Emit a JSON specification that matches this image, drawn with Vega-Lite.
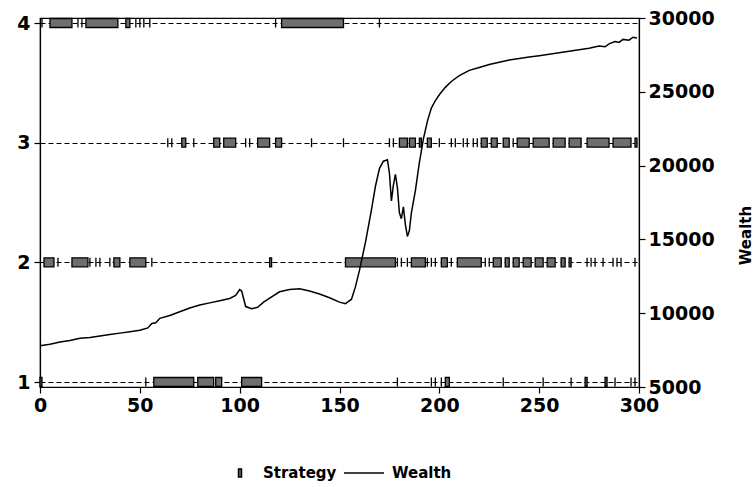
{
  "$schema": "https://vega.github.io/schema/vega-lite/v6.json",
  "width": 599,
  "height": 369,
  "autosize": {"type": "none"},
  "padding": {"left": 40, "top": 18, "right": 117, "bottom": 100},
  "background": "white",
  "config": {
    "view": {"stroke": "black", "strokeWidth": 1.2},
    "font": "DejaVu Sans",
    "axis": {"labelFont": "DejaVu Sans", "labelFontWeight": "bold", "labelColor": "black", "tickColor": "black", "domainColor": "black", "labelFontSize": 19, "tickWidth": 1.2, "domainWidth": 1.2},
    "legend": {"labelFont": "DejaVu Sans", "labelFontWeight": "bold", "labelFontSize": 15, "labelColor": "black"}
  },
  "datasets": {
    "strategy": [
      {"series": "Strategy", "strategy": 4, "start": 1, "end": 1},
      {"series": "Strategy", "strategy": 4, "start": 5, "end": 16},
      {"series": "Strategy", "strategy": 4, "start": 19, "end": 19},
      {"series": "Strategy", "strategy": 4, "start": 21, "end": 21},
      {"series": "Strategy", "strategy": 4, "start": 23, "end": 39},
      {"series": "Strategy", "strategy": 4, "start": 43, "end": 45},
      {"series": "Strategy", "strategy": 4, "start": 48, "end": 48},
      {"series": "Strategy", "strategy": 4, "start": 50, "end": 50},
      {"series": "Strategy", "strategy": 4, "start": 52, "end": 52},
      {"series": "Strategy", "strategy": 4, "start": 55, "end": 55},
      {"series": "Strategy", "strategy": 4, "start": 118, "end": 118},
      {"series": "Strategy", "strategy": 4, "start": 121, "end": 152},
      {"series": "Strategy", "strategy": 4, "start": 170, "end": 170},
      {"series": "Strategy", "strategy": 3, "start": 64, "end": 64},
      {"series": "Strategy", "strategy": 3, "start": 66, "end": 66},
      {"series": "Strategy", "strategy": 3, "start": 71, "end": 73},
      {"series": "Strategy", "strategy": 3, "start": 77, "end": 77},
      {"series": "Strategy", "strategy": 3, "start": 87, "end": 90},
      {"series": "Strategy", "strategy": 3, "start": 92, "end": 98},
      {"series": "Strategy", "strategy": 3, "start": 103, "end": 103},
      {"series": "Strategy", "strategy": 3, "start": 105, "end": 105},
      {"series": "Strategy", "strategy": 3, "start": 109, "end": 115},
      {"series": "Strategy", "strategy": 3, "start": 118, "end": 121},
      {"series": "Strategy", "strategy": 3, "start": 136, "end": 136},
      {"series": "Strategy", "strategy": 3, "start": 152, "end": 152},
      {"series": "Strategy", "strategy": 3, "start": 175, "end": 175},
      {"series": "Strategy", "strategy": 3, "start": 177, "end": 177},
      {"series": "Strategy", "strategy": 3, "start": 180, "end": 184},
      {"series": "Strategy", "strategy": 3, "start": 185, "end": 188},
      {"series": "Strategy", "strategy": 3, "start": 190, "end": 191},
      {"series": "Strategy", "strategy": 3, "start": 194, "end": 196},
      {"series": "Strategy", "strategy": 3, "start": 200, "end": 200},
      {"series": "Strategy", "strategy": 3, "start": 206, "end": 206},
      {"series": "Strategy", "strategy": 3, "start": 208, "end": 208},
      {"series": "Strategy", "strategy": 3, "start": 212, "end": 212},
      {"series": "Strategy", "strategy": 3, "start": 214, "end": 214},
      {"series": "Strategy", "strategy": 3, "start": 217, "end": 217},
      {"series": "Strategy", "strategy": 3, "start": 219, "end": 219},
      {"series": "Strategy", "strategy": 3, "start": 221, "end": 224},
      {"series": "Strategy", "strategy": 3, "start": 226, "end": 229},
      {"series": "Strategy", "strategy": 3, "start": 232, "end": 235},
      {"series": "Strategy", "strategy": 3, "start": 237, "end": 237},
      {"series": "Strategy", "strategy": 3, "start": 239, "end": 245},
      {"series": "Strategy", "strategy": 3, "start": 247, "end": 255},
      {"series": "Strategy", "strategy": 3, "start": 257, "end": 263},
      {"series": "Strategy", "strategy": 3, "start": 265, "end": 271},
      {"series": "Strategy", "strategy": 3, "start": 274, "end": 285},
      {"series": "Strategy", "strategy": 3, "start": 287, "end": 296},
      {"series": "Strategy", "strategy": 3, "start": 298, "end": 299},
      {"series": "Strategy", "strategy": 2, "start": 2, "end": 7},
      {"series": "Strategy", "strategy": 2, "start": 9, "end": 9},
      {"series": "Strategy", "strategy": 2, "start": 16, "end": 24},
      {"series": "Strategy", "strategy": 2, "start": 25, "end": 25},
      {"series": "Strategy", "strategy": 2, "start": 28, "end": 28},
      {"series": "Strategy", "strategy": 2, "start": 30, "end": 30},
      {"series": "Strategy", "strategy": 2, "start": 35, "end": 35},
      {"series": "Strategy", "strategy": 2, "start": 37, "end": 40},
      {"series": "Strategy", "strategy": 2, "start": 45, "end": 53},
      {"series": "Strategy", "strategy": 2, "start": 56, "end": 56},
      {"series": "Strategy", "strategy": 2, "start": 115, "end": 116},
      {"series": "Strategy", "strategy": 2, "start": 153, "end": 178},
      {"series": "Strategy", "strategy": 2, "start": 179, "end": 179},
      {"series": "Strategy", "strategy": 2, "start": 181, "end": 181},
      {"series": "Strategy", "strategy": 2, "start": 184, "end": 184},
      {"series": "Strategy", "strategy": 2, "start": 186, "end": 193},
      {"series": "Strategy", "strategy": 2, "start": 194, "end": 194},
      {"series": "Strategy", "strategy": 2, "start": 196, "end": 196},
      {"series": "Strategy", "strategy": 2, "start": 198, "end": 198},
      {"series": "Strategy", "strategy": 2, "start": 201, "end": 204},
      {"series": "Strategy", "strategy": 2, "start": 206, "end": 206},
      {"series": "Strategy", "strategy": 2, "start": 209, "end": 221},
      {"series": "Strategy", "strategy": 2, "start": 223, "end": 223},
      {"series": "Strategy", "strategy": 2, "start": 225, "end": 225},
      {"series": "Strategy", "strategy": 2, "start": 227, "end": 231},
      {"series": "Strategy", "strategy": 2, "start": 233, "end": 235},
      {"series": "Strategy", "strategy": 2, "start": 237, "end": 240},
      {"series": "Strategy", "strategy": 2, "start": 242, "end": 246},
      {"series": "Strategy", "strategy": 2, "start": 248, "end": 252},
      {"series": "Strategy", "strategy": 2, "start": 254, "end": 258},
      {"series": "Strategy", "strategy": 2, "start": 261, "end": 263},
      {"series": "Strategy", "strategy": 2, "start": 265, "end": 266},
      {"series": "Strategy", "strategy": 2, "start": 274, "end": 274},
      {"series": "Strategy", "strategy": 2, "start": 276, "end": 276},
      {"series": "Strategy", "strategy": 2, "start": 278, "end": 278},
      {"series": "Strategy", "strategy": 2, "start": 282, "end": 282},
      {"series": "Strategy", "strategy": 2, "start": 287, "end": 287},
      {"series": "Strategy", "strategy": 2, "start": 289, "end": 289},
      {"series": "Strategy", "strategy": 2, "start": 291, "end": 291},
      {"series": "Strategy", "strategy": 2, "start": 298, "end": 298},
      {"series": "Strategy", "strategy": 1, "start": 0, "end": 1},
      {"series": "Strategy", "strategy": 1, "start": 53, "end": 53},
      {"series": "Strategy", "strategy": 1, "start": 57, "end": 77},
      {"series": "Strategy", "strategy": 1, "start": 79, "end": 87},
      {"series": "Strategy", "strategy": 1, "start": 88, "end": 91},
      {"series": "Strategy", "strategy": 1, "start": 101, "end": 111},
      {"series": "Strategy", "strategy": 1, "start": 179, "end": 179},
      {"series": "Strategy", "strategy": 1, "start": 196, "end": 196},
      {"series": "Strategy", "strategy": 1, "start": 198, "end": 198},
      {"series": "Strategy", "strategy": 1, "start": 201, "end": 201},
      {"series": "Strategy", "strategy": 1, "start": 203, "end": 205},
      {"series": "Strategy", "strategy": 1, "start": 232, "end": 232},
      {"series": "Strategy", "strategy": 1, "start": 252, "end": 252},
      {"series": "Strategy", "strategy": 1, "start": 266, "end": 266},
      {"series": "Strategy", "strategy": 1, "start": 273, "end": 274},
      {"series": "Strategy", "strategy": 1, "start": 283, "end": 284},
      {"series": "Strategy", "strategy": 1, "start": 288, "end": 288},
      {"series": "Strategy", "strategy": 1, "start": 296, "end": 296},
      {"series": "Strategy", "strategy": 1, "start": 298, "end": 298}
    ],
    "wealth": [
      {"series": "Wealth", "t": 0, "wealth": 7800},
      {"series": "Wealth", "t": 5, "wealth": 7900},
      {"series": "Wealth", "t": 10, "wealth": 8050},
      {"series": "Wealth", "t": 15, "wealth": 8150},
      {"series": "Wealth", "t": 20, "wealth": 8300},
      {"series": "Wealth", "t": 25, "wealth": 8350},
      {"series": "Wealth", "t": 30, "wealth": 8450},
      {"series": "Wealth", "t": 35, "wealth": 8550},
      {"series": "Wealth", "t": 40, "wealth": 8650},
      {"series": "Wealth", "t": 45, "wealth": 8750},
      {"series": "Wealth", "t": 50, "wealth": 8850},
      {"series": "Wealth", "t": 54, "wealth": 9000},
      {"series": "Wealth", "t": 56, "wealth": 9300},
      {"series": "Wealth", "t": 58, "wealth": 9350},
      {"series": "Wealth", "t": 60, "wealth": 9650},
      {"series": "Wealth", "t": 65, "wealth": 9850},
      {"series": "Wealth", "t": 70, "wealth": 10100},
      {"series": "Wealth", "t": 75, "wealth": 10350},
      {"series": "Wealth", "t": 80, "wealth": 10550},
      {"series": "Wealth", "t": 85, "wealth": 10700},
      {"series": "Wealth", "t": 90, "wealth": 10850},
      {"series": "Wealth", "t": 95, "wealth": 11000},
      {"series": "Wealth", "t": 98, "wealth": 11200},
      {"series": "Wealth", "t": 100, "wealth": 11600},
      {"series": "Wealth", "t": 101, "wealth": 11500},
      {"series": "Wealth", "t": 103, "wealth": 10450},
      {"series": "Wealth", "t": 106, "wealth": 10300},
      {"series": "Wealth", "t": 109, "wealth": 10400},
      {"series": "Wealth", "t": 112, "wealth": 10750},
      {"series": "Wealth", "t": 116, "wealth": 11100},
      {"series": "Wealth", "t": 120, "wealth": 11450},
      {"series": "Wealth", "t": 125, "wealth": 11600},
      {"series": "Wealth", "t": 130, "wealth": 11650},
      {"series": "Wealth", "t": 135, "wealth": 11500},
      {"series": "Wealth", "t": 140, "wealth": 11300},
      {"series": "Wealth", "t": 145, "wealth": 11050},
      {"series": "Wealth", "t": 150, "wealth": 10750},
      {"series": "Wealth", "t": 153, "wealth": 10650},
      {"series": "Wealth", "t": 156, "wealth": 10950},
      {"series": "Wealth", "t": 158, "wealth": 11800},
      {"series": "Wealth", "t": 160, "wealth": 12900},
      {"series": "Wealth", "t": 163, "wealth": 14800},
      {"series": "Wealth", "t": 166, "wealth": 17000},
      {"series": "Wealth", "t": 168, "wealth": 18600},
      {"series": "Wealth", "t": 170, "wealth": 19800},
      {"series": "Wealth", "t": 172, "wealth": 20300},
      {"series": "Wealth", "t": 174, "wealth": 20400},
      {"series": "Wealth", "t": 175, "wealth": 19500},
      {"series": "Wealth", "t": 176, "wealth": 17600},
      {"series": "Wealth", "t": 177, "wealth": 18700},
      {"series": "Wealth", "t": 178, "wealth": 19400},
      {"series": "Wealth", "t": 179, "wealth": 18500},
      {"series": "Wealth", "t": 180, "wealth": 16800},
      {"series": "Wealth", "t": 181, "wealth": 16400},
      {"series": "Wealth", "t": 182, "wealth": 17200},
      {"series": "Wealth", "t": 183, "wealth": 16000},
      {"series": "Wealth", "t": 184, "wealth": 15200},
      {"series": "Wealth", "t": 185, "wealth": 15600},
      {"series": "Wealth", "t": 186, "wealth": 16800},
      {"series": "Wealth", "t": 188, "wealth": 18300},
      {"series": "Wealth", "t": 190, "wealth": 20200},
      {"series": "Wealth", "t": 192, "wealth": 21800},
      {"series": "Wealth", "t": 194, "wealth": 23000},
      {"series": "Wealth", "t": 196, "wealth": 23900},
      {"series": "Wealth", "t": 198, "wealth": 24400},
      {"series": "Wealth", "t": 200, "wealth": 24800},
      {"series": "Wealth", "t": 203, "wealth": 25300},
      {"series": "Wealth", "t": 206, "wealth": 25700},
      {"series": "Wealth", "t": 210, "wealth": 26100},
      {"series": "Wealth", "t": 215, "wealth": 26450},
      {"series": "Wealth", "t": 220, "wealth": 26650},
      {"series": "Wealth", "t": 225, "wealth": 26850},
      {"series": "Wealth", "t": 230, "wealth": 27000},
      {"series": "Wealth", "t": 235, "wealth": 27150},
      {"series": "Wealth", "t": 240, "wealth": 27250},
      {"series": "Wealth", "t": 245, "wealth": 27350},
      {"series": "Wealth", "t": 250, "wealth": 27450},
      {"series": "Wealth", "t": 255, "wealth": 27550},
      {"series": "Wealth", "t": 260, "wealth": 27650},
      {"series": "Wealth", "t": 265, "wealth": 27750},
      {"series": "Wealth", "t": 270, "wealth": 27850},
      {"series": "Wealth", "t": 275, "wealth": 27950},
      {"series": "Wealth", "t": 280, "wealth": 28100},
      {"series": "Wealth", "t": 283, "wealth": 28050},
      {"series": "Wealth", "t": 285, "wealth": 28250},
      {"series": "Wealth", "t": 288, "wealth": 28400},
      {"series": "Wealth", "t": 290, "wealth": 28350},
      {"series": "Wealth", "t": 292, "wealth": 28550},
      {"series": "Wealth", "t": 295, "wealth": 28500},
      {"series": "Wealth", "t": 297, "wealth": 28700},
      {"series": "Wealth", "t": 299, "wealth": 28650}
    ]
  },
  "layer": [
    {
      "data": {"name": "strategy"},
      "mark": {"type": "bar", "orient": "horizontal", "size": 9, "stroke": "black", "strokeWidth": 1.3, "clip": false},
      "encoding": {
        "x": {"field": "start", "type": "quantitative", "scale": {"domain": [0, 300], "nice": false, "zero": false},
          "axis": {"title": null, "values": [0, 50, 100, 150, 200, 250, 300], "tickSize": 6, "labelPadding": 3, "grid": false, "labelFlush": false}},
        "x2": {"field": "end"},
        "y": {"field": "strategy", "type": "quantitative", "scale": {"domain": [1, 4], "nice": false, "zero": false},
          "axis": {"title": null, "orient": "left", "values": [1, 2, 3, 4], "format": "d", "tickSize": 6, "labelPadding": 4, "grid": true, "gridDash": [5, 3], "gridColor": "black", "gridWidth": 1, "gridOpacity": 1, "labelFlush": false}},
        "fill": {"field": "series", "type": "nominal", "scale": {"domain": ["Strategy"], "range": ["#6e6e6e"]},
          "legend": {"title": null, "orient": "none", "legendX": 179, "legendY": 434, "direction": "horizontal", "symbolType": "M-0.075,-0.2H0.075V0.2H-0.075Z", "symbolSize": 1600, "symbolStrokeColor": "black", "symbolStrokeWidth": 1.5, "labelOffset": 2}}
      }
    },
    {
      "data": {"name": "wealth"},
      "mark": {"type": "line", "strokeWidth": 1.5},
      "encoding": {
        "x": {"field": "t", "type": "quantitative"},
        "y": {"field": "wealth", "type": "quantitative", "scale": {"domain": [5000, 30000], "nice": false, "zero": false},
          "axis": {"title": "Wealth", "orient": "right", "values": [5000, 10000, 15000, 20000, 25000, 30000], "format": "d", "tickSize": 6, "labelPadding": 3, "grid": false, "labelFlush": false,
            "titleAngle": 270, "titleX": 106, "titleY": 217, "titleAlign": "center", "titleBaseline": "middle", "titleFontSize": 15, "titleFontWeight": "bold", "titleFont": "DejaVu Sans", "titleColor": "black"}},
        "stroke": {"field": "series", "type": "nominal", "scale": {"domain": ["Wealth"], "range": ["black"]},
          "legend": {"title": null, "orient": "none", "legendX": 303, "legendY": 434, "direction": "horizontal", "symbolType": "stroke", "symbolSize": 1600, "symbolStrokeWidth": 1.5, "labelOffset": 7}}
      }
    }
  ],
  "resolve": {"scale": {"y": "independent"}}
}
